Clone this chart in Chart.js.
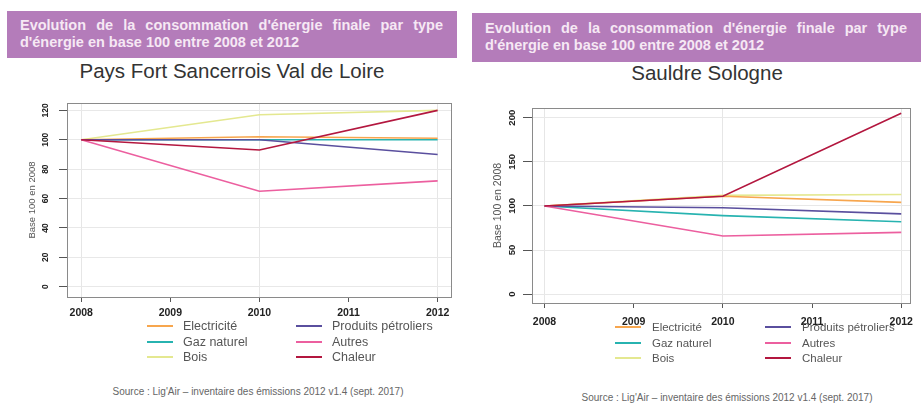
<!DOCTYPE html>
<html lang="fr">
<head>
<meta charset="utf-8">
<script src="https://cdn.jsdelivr.net/npm/chart.js@4.4.1/dist/chart.umd.min.js"></script>
<style>
  body { margin: 0; width: 921px; height: 403px; background: #fff; position: relative; overflow: hidden; font-family: "Liberation Sans", Arial, sans-serif; }
  .bandeau { position: absolute; background: #b47cba; color: #f6e8f4; font-weight: bold; font-size: 14.5px; line-height: 17px; box-sizing: border-box; }
  .bandeau .l1 { text-align: justify; text-align-last: justify; white-space: nowrap; }
  .titre { position: absolute; width: 400px; font-size: 20.5px; line-height: 24px; color: #333; text-align: center; white-space: nowrap; }
  .zone { position: absolute; }
  .legende { position: absolute; left: 0; top: 0; }
  .item { position: absolute; white-space: nowrap; color: #555; }
  .item span.trait { position: absolute; height: 2px; }
  .source { position: absolute; width: 340px; font-size: 10px; line-height: 12px; color: #666; text-align: center; white-space: nowrap; }
</style>
</head>
<body>
<div class="bandeau" style="left:7px; top:11px; width:450px; height:47px; padding:5.5px 14px 0 13px;">
  <div class="l1">Evolution de la consommation d'énergie finale par type</div>
  <div>d'énergie en base 100 entre 2008 et 2012</div>
</div>
<div class="bandeau" style="left:472px; top:13px; width:449px; height:49px; padding:6.5px 14px 0 13px;">
  <div class="l1">Evolution de la consommation d'énergie finale par type</div>
  <div>d'énergie en base 100 entre 2008 et 2012</div>
</div>

<div class="titre" style="left:32px; top:59px;">Pays Fort Sancerrois Val de Loire</div>
<div class="titre" style="left:507px; top:61px;">Sauldre Sologne</div>

<div class="zone" style="left:0; top:90px; width:460px; height:235px;"><canvas id="graphePF" width="460" height="235"></canvas></div>
<div class="zone" style="left:460px; top:95px; width:461px; height:235px;"><canvas id="grapheSS" width="461" height="235"></canvas></div>

<div id="legendePF" class="legende"></div>
<div id="legendeSS" class="legende"></div>

<div class="source" style="left:88px; top:386px;">Source : Lig'Air – inventaire des émissions 2012 v1.4 (sept. 2017)</div>
<div class="source" style="left:557px; top:392px;">Source : Lig'Air – inventaire des émissions 2012 v1.4 (sept. 2017)</div>

<script>
// Années des points et libellés
const annees = [2008, 2010, 2012];
const energies = ['Electricité', 'Gaz naturel', 'Bois', 'Produits pétroliers', 'Autres', 'Chaleur'];
const ticksX = [2008, 2009, 2010, 2011, 2012];

// Pays Fort Sancerrois Val de Loire (base 100 en 2008)
const pfElectricite = [100, 102, 101];
const pfGaz = [100, 100, 100];
const pfBois = [100, 117, 120];
const pfPetrole = [100, 100, 90];
const pfAutres = [100, 65, 72];
const pfChaleur = [100, 93, 120];
const ticksYpf = [0, 20, 40, 60, 80, 100, 120];

// Sauldre Sologne (base 100 en 2008)
const ssElectricite = [100, 111, 104];
const ssGaz = [100, 89, 82];
const ssBois = [100, 112, 113];
const ssPetrole = [100, 98, 91];
const ssAutres = [100, 66, 70];
const ssChaleur = [100, 111, 205];
const ticksYss = [0, 50, 100, 150, 200];

// couleurs et ordre de dessin (0 = au-dessus)
const couleurs = ['#f7a64e', '#27b3b0', '#e4e890', '#5a4f9e', '#ec5f9f', '#b3173f'];
const ordres = [3, 4, 5, 2, 1, 0];

// cadre gris autour de la zone de tracé
const cadre = {
    id: 'cadre',
    afterDatasetsDraw(chart) {
        const a = chart.chartArea;
        const c = chart.ctx;
        c.save();
        c.strokeStyle = '#8a8a8a';
        c.lineWidth = 1;
        c.strokeRect(Math.round(a.left) + 0.5, Math.round(a.top) + 0.5, Math.round(a.right - a.left), Math.round(a.bottom - a.top));
        c.restore();
    }
};

// étiquettes de l'axe Y tournées à la verticale (lues de bas en haut)
const etiquettesY = {
    id: 'etiquettesY',
    afterDraw(chart, args, opts) {
        const s = chart.scales.y;
        const c = chart.ctx;
        c.save();
        c.font = 'bold ' + opts.taille + 'px "Liberation Sans"';
        c.fillStyle = '#222';
        c.textAlign = 'center';
        c.textBaseline = 'middle';
        s.ticks.forEach(t => {
            c.save();
            c.translate(opts.x, s.getPixelForValue(t.value));
            c.rotate(-Math.PI / 2);
            c.fillText(t.label, 0, 0);
            c.restore();
        });
        c.restore();
    }
};

function creerGraphique(id, series, ticksY, r) {
    const ctx = document.getElementById(id).getContext('2d');
    return new Chart(ctx, {
        type: 'line',
        data: {
            datasets: series.map((valeurs, i) => ({
                label: energies[i],
                data: valeurs.map((v, j) => ({ x: annees[j], y: v })),
                borderColor: couleurs[i],
                backgroundColor: couleurs[i],
                borderWidth: 1.6,
                pointRadius: 0,
                tension: 0,
                order: ordres[i]
            }))
        },
        options: {
            responsive: false,
            animation: false,
            layout: { padding: { left: r.gauche, top: 13, right: r.droite, bottom: 0 } },
            plugins: {
                legend: { display: false },
                tooltip: { enabled: false },
                etiquettesY: { x: r.xEtiq, taille: r.taillePolice }
            },
            scales: {
                x: {
                    type: 'linear',
                    min: r.xMin,
                    max: r.xMax,
                    afterBuildTicks: scale => { scale.ticks = ticksX.map(v => ({ value: v })); },
                    afterFit: scale => { scale.height = r.hautX; },
                    border: { display: false },
                    grid: {
                        color: c => (c.tick && c.tick.value % 2 === 0) ? '#e6e6e6' : 'rgba(0,0,0,0)',
                        tickColor: '#555',
                        tickLength: 5
                    },
                    ticks: {
                        callback: v => String(v),
                        padding: r.padX,
                        maxRotation: 0,
                        autoSkip: false,
                        color: '#222',
                        font: { family: 'Liberation Sans', size: 10.5, weight: 'bold' }
                    }
                },
                y: {
                    min: r.yMin,
                    max: r.yMax,
                    afterBuildTicks: scale => { scale.ticks = ticksY.map(v => ({ value: v })); },
                    afterFit: scale => { scale.width = 40; },
                    border: { display: false },
                    grid: { color: '#e8e8e8', tickColor: '#555', tickLength: r.tickY },
                    title: {
                        display: true,
                        text: 'Base 100 en 2008',
                        color: '#555',
                        padding: 0,
                        font: { family: 'Liberation Sans', size: r.taillePolice + 1 }
                    },
                    ticks: { display: false }
                }
            }
        },
        plugins: [cadre, etiquettesY]
    });
}

// légende en deux colonnes construite depuis les séries du graphique
function legende(idDiv, chart, r) {
    const div = document.getElementById(idDiv);
    chart.data.datasets.forEach((ds, i) => {
        const col = i < 3 ? 0 : 1;
        const ligne = i % 3;
        const item = document.createElement('div');
        item.className = 'item';
        item.style.left = r.cols[col] + 'px';
        item.style.top = (r.y0 + ligne * r.dy - 8) + 'px';
        item.style.fontSize = r.taille + 'px';
        item.style.lineHeight = '16px';
        item.style.paddingLeft = r.decal + 'px';
        const trait = document.createElement('span');
        trait.className = 'trait';
        trait.style.left = '0px';
        trait.style.top = '7px';
        trait.style.width = r.long + 'px';
        trait.style.background = ds.borderColor;
        item.appendChild(trait);
        item.appendChild(document.createTextNode(ds.label));
        div.appendChild(item);
    });
}

const graphePF = creerGraphique('graphePF',
    [pfElectricite, pfGaz, pfBois, pfPetrole, pfAutres, pfChaleur], ticksYpf,
    { gauche: 27, droite: 9, xMin: 2007.84, xMax: 2012.15, yMin: -7, yMax: 125, hautX: 28, padX: 5, tickY: 8, xEtiq: 46, taillePolice: 8.5 });

const grapheSS = creerGraphique('grapheSS',
    [ssElectricite, ssGaz, ssBois, ssPetrole, ssAutres, ssChaleur], ticksYss,
    { gauche: 32, droite: 4, xMin: 2007.86, xMax: 2012.1, yMin: -10, yMax: 211, hautX: 27, padX: 8, tickY: 9, xEtiq: 52, taillePolice: 9.5 });

legende('legendePF', graphePF, { cols: [147, 296], y0: 326, dy: 15.5, taille: 12.5, decal: 36, long: 26 });
legende('legendeSS', grapheSS, { cols: [615, 765], y0: 327, dy: 15.5, taille: 11.5, decal: 37, long: 26 });
</script>
</body>
</html>
